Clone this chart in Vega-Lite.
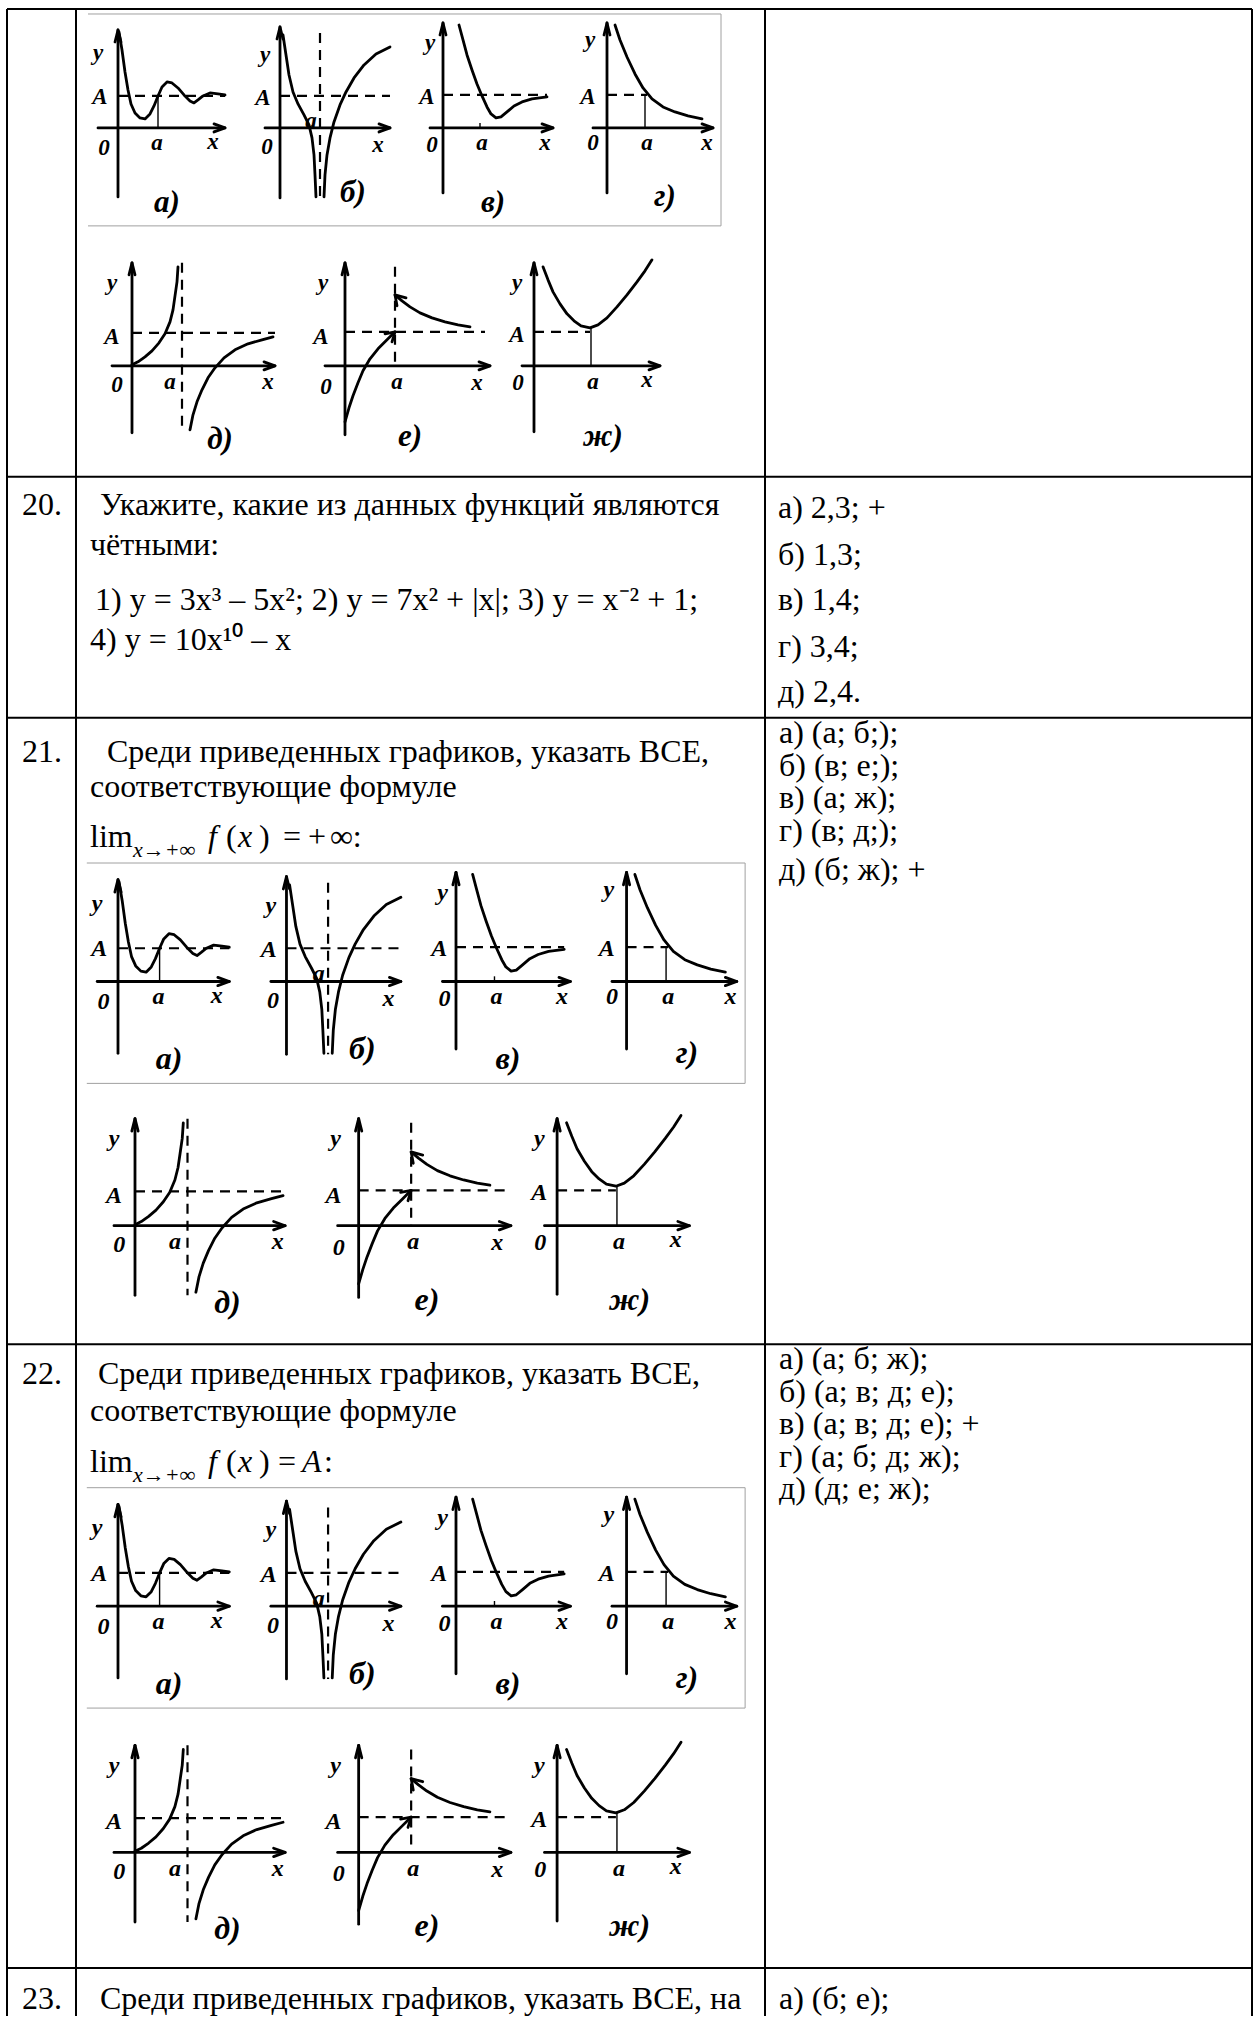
{
"$schema":"https://vega.github.io/schema/vega-lite/v6.json",
"width":1259,"height":2017,
"autosize":{"type":"fit","contains":"padding"},
"padding":0,
"background":"white",
"config":{"view":{"stroke":null}},
"datasets":{
"rules":[
{"x1":7,"y1":9,"x2":1252,"y2":9},{"x1":7,"y1":477,"x2":1252,"y2":477},{"x1":7,"y1":718,"x2":1252,"y2":718},{"x1":7,"y1":1345,"x2":1252,"y2":1345},{"x1":7,"y1":1969,"x2":1252,"y2":1969},
{"x1":7,"y1":9,"x2":7,"y2":2017},{"x1":76,"y1":9,"x2":76,"y2":2017},{"x1":765,"y1":9,"x2":765,"y2":2017},{"x1":1252,"y1":9,"x2":1252,"y2":2017}
],
"texts":[
{"s":"n","t":"20.","x":22,"y":515},
{"s":"n","t":"Укажите, какие из данных функций являются","x":100,"y":515},
{"s":"n","t":"чётными:","x":90,"y":555},
{"s":"n","t":"1) y = 3x³ – 5x²; 2) y = 7x² + |x|; 3) y = x⁻² + 1;","x":95,"y":610},
{"s":"n","t":"4) y = 10x¹⁰ – x","x":90,"y":650},
{"s":"n","t":"а) 2,3; +","x":778,"y":518},
{"s":"n","t":"б) 1,3;","x":778,"y":565},
{"s":"n","t":"в) 1,4;","x":778,"y":610},
{"s":"n","t":"г) 3,4;","x":778,"y":657},
{"s":"n","t":"д) 2,4.","x":778,"y":702},
{"s":"n","t":"21.","x":22,"y":762},
{"s":"n","t":"Среди приведенных графиков, указать ВСЕ,","x":107,"y":762},
{"s":"n","t":"соответствующие формуле","x":90,"y":797},
{"s":"n","t":"lim","x":90,"y":847},
{"s":"sub","t":"x→+∞","x":133,"y":857},
{"s":"i","t":"f","x":208,"y":847},
{"s":"n","t":"(","x":226,"y":847},
{"s":"i","t":"x","x":238,"y":847},
{"s":"n","t":")","x":259,"y":847},
{"s":"n","t":"=","x":283,"y":847},
{"s":"n","t":"+","x":308,"y":847},
{"s":"n","t":"∞:","x":330,"y":847},
{"s":"n","t":"а) (а; б;);","x":779,"y":743},
{"s":"n","t":"б) (в; е;);","x":779,"y":776},
{"s":"n","t":"в) (а; ж);","x":779,"y":808},
{"s":"n","t":"г) (в; д;);","x":779,"y":841},
{"s":"n","t":"д) (б; ж); +","x":779,"y":880},
{"s":"n","t":"22.","x":22,"y":1385},
{"s":"n","t":"Среди приведенных графиков, указать ВСЕ,","x":98,"y":1385},
{"s":"n","t":"соответствующие формуле","x":90,"y":1422},
{"s":"n","t":"lim","x":90,"y":1473},
{"s":"sub","t":"x→+∞","x":133,"y":1483},
{"s":"i","t":"f","x":208,"y":1473},
{"s":"n","t":"(","x":226,"y":1473},
{"s":"i","t":"x","x":238,"y":1473},
{"s":"n","t":")","x":259,"y":1473},
{"s":"n","t":"=","x":278,"y":1473},
{"s":"i","t":"A","x":302,"y":1473},
{"s":"n","t":":","x":324,"y":1473},
{"s":"n","t":"а) (а; б; ж);","x":779,"y":1370},
{"s":"n","t":"б) (а; в; д; е);","x":779,"y":1403},
{"s":"n","t":"в) (а; в; д; е); +","x":779,"y":1435},
{"s":"n","t":"г) (а; б; д; ж);","x":779,"y":1468},
{"s":"n","t":"д) (д; е; ж);","x":779,"y":1500},
{"s":"n","t":"23.","x":22,"y":2010},
{"s":"n","t":"Среди приведенных графиков, указать ВСЕ, на","x":100,"y":2010},
{"s":"n","t":"а) (б; е);","x":779,"y":2010}
],
"topL":[
{"k":"s","g":"a_y","x":118,"y":197},{"k":"s","g":"a_y","x":118,"y":30},
{"k":"s","g":"a_ya","x":115,"y":42},{"k":"s","g":"a_ya","x":118,"y":30},{"k":"s","g":"a_ya","x":121,"y":42},
{"k":"s","g":"a_x","x":98,"y":128},{"k":"s","g":"a_x","x":225,"y":128},
{"k":"s","g":"a_xa","x":214,"y":124},{"k":"s","g":"a_xa","x":225,"y":128},{"k":"s","g":"a_xa","x":214,"y":132},
{"k":"d","g":"a_A","x":118,"y":96},{"k":"d","g":"a_A","x":225,"y":96},
{"k":"t","g":"a_t","x":158,"y":96},{"k":"t","g":"a_t","x":158,"y":128},
{"k":"s","g":"a_c","x":119,"y":32},{"k":"s","g":"a_c","x":122,"y":50},{"k":"s","g":"a_c","x":125,"y":72},{"k":"s","g":"a_c","x":128,"y":90},{"k":"s","g":"a_c","x":131,"y":104},{"k":"s","g":"a_c","x":135,"y":113},{"k":"s","g":"a_c","x":140,"y":118},{"k":"s","g":"a_c","x":145,"y":119},{"k":"s","g":"a_c","x":150,"y":114},{"k":"s","g":"a_c","x":154,"y":106},{"k":"s","g":"a_c","x":158,"y":96},{"k":"s","g":"a_c","x":162,"y":87},{"k":"s","g":"a_c","x":167,"y":82},{"k":"s","g":"a_c","x":172,"y":83},{"k":"s","g":"a_c","x":178,"y":88},{"k":"s","g":"a_c","x":184,"y":95},{"k":"s","g":"a_c","x":190,"y":101},{"k":"s","g":"a_c","x":194,"y":103},{"k":"s","g":"a_c","x":198,"y":100},{"k":"s","g":"a_c","x":203,"y":96},{"k":"s","g":"a_c","x":210,"y":93},{"k":"s","g":"a_c","x":218,"y":94},{"k":"s","g":"a_c","x":225,"y":95},
{"k":"s","g":"b_y","x":280,"y":198},{"k":"s","g":"b_y","x":280,"y":27},
{"k":"s","g":"b_ya","x":277,"y":39},{"k":"s","g":"b_ya","x":280,"y":27},{"k":"s","g":"b_ya","x":283,"y":39},
{"k":"s","g":"b_x","x":265,"y":128},{"k":"s","g":"b_x","x":390,"y":128},
{"k":"s","g":"b_xa","x":379,"y":124},{"k":"s","g":"b_xa","x":390,"y":128},{"k":"s","g":"b_xa","x":379,"y":132},
{"k":"d","g":"b_A","x":280,"y":96},{"k":"d","g":"b_A","x":390,"y":96},
{"k":"d","g":"b_v","x":320,"y":33},{"k":"d","g":"b_v","x":320,"y":198},
{"k":"s","g":"b_c1","x":283,"y":35},{"k":"s","g":"b_c1","x":286,"y":55},{"k":"s","g":"b_c1","x":289,"y":75},{"k":"s","g":"b_c1","x":293,"y":92},{"k":"s","g":"b_c1","x":298,"y":104},{"k":"s","g":"b_c1","x":304,"y":115},{"k":"s","g":"b_c1","x":309,"y":125},{"k":"s","g":"b_c1","x":312,"y":138},{"k":"s","g":"b_c1","x":314,"y":155},{"k":"s","g":"b_c1","x":315,"y":175},{"k":"s","g":"b_c1","x":316,"y":197},
{"k":"s","g":"b_c2","x":324,"y":197},{"k":"s","g":"b_c2","x":325,"y":175},{"k":"s","g":"b_c2","x":327,"y":155},{"k":"s","g":"b_c2","x":330,"y":138},{"k":"s","g":"b_c2","x":334,"y":122},{"k":"s","g":"b_c2","x":340,"y":105},{"k":"s","g":"b_c2","x":346,"y":92},{"k":"s","g":"b_c2","x":354,"y":78},{"k":"s","g":"b_c2","x":364,"y":65},{"k":"s","g":"b_c2","x":376,"y":54},{"k":"s","g":"b_c2","x":390,"y":47},
{"k":"s","g":"v_y","x":443,"y":193},{"k":"s","g":"v_y","x":443,"y":23},
{"k":"s","g":"v_ya","x":440,"y":35},{"k":"s","g":"v_ya","x":443,"y":23},{"k":"s","g":"v_ya","x":446,"y":35},
{"k":"s","g":"v_x","x":430,"y":128},{"k":"s","g":"v_x","x":553,"y":128},
{"k":"s","g":"v_xa","x":542,"y":124},{"k":"s","g":"v_xa","x":553,"y":128},{"k":"s","g":"v_xa","x":542,"y":132},
{"k":"d","g":"v_A","x":443,"y":95},{"k":"d","g":"v_A","x":547,"y":95},
{"k":"t","g":"v_t","x":480,"y":123},{"k":"t","g":"v_t","x":480,"y":128},
{"k":"s","g":"v_c","x":459,"y":25},{"k":"s","g":"v_c","x":463,"y":40},{"k":"s","g":"v_c","x":467,"y":55},{"k":"s","g":"v_c","x":472,"y":70},{"k":"s","g":"v_c","x":477,"y":84},{"k":"s","g":"v_c","x":482,"y":96},{"k":"s","g":"v_c","x":487,"y":107},{"k":"s","g":"v_c","x":491,"y":114},{"k":"s","g":"v_c","x":496,"y":118},{"k":"s","g":"v_c","x":501,"y":117},{"k":"s","g":"v_c","x":507,"y":112},{"k":"s","g":"v_c","x":514,"y":106},{"k":"s","g":"v_c","x":522,"y":102},{"k":"s","g":"v_c","x":532,"y":99},{"k":"s","g":"v_c","x":547,"y":97},
{"k":"s","g":"g_y","x":607,"y":193},{"k":"s","g":"g_y","x":607,"y":23},
{"k":"s","g":"g_ya","x":604,"y":35},{"k":"s","g":"g_ya","x":607,"y":23},{"k":"s","g":"g_ya","x":610,"y":35},
{"k":"s","g":"g_x","x":593,"y":128},{"k":"s","g":"g_x","x":713,"y":128},
{"k":"s","g":"g_xa","x":702,"y":124},{"k":"s","g":"g_xa","x":713,"y":128},{"k":"s","g":"g_xa","x":702,"y":132},
{"k":"d","g":"g_A","x":607,"y":95},{"k":"d","g":"g_A","x":647,"y":95},
{"k":"t","g":"g_t","x":645,"y":95},{"k":"t","g":"g_t","x":645,"y":128},
{"k":"s","g":"g_c","x":615,"y":25},{"k":"s","g":"g_c","x":620,"y":40},{"k":"s","g":"g_c","x":627,"y":57},{"k":"s","g":"g_c","x":635,"y":74},{"k":"s","g":"g_c","x":643,"y":88},{"k":"s","g":"g_c","x":652,"y":99},{"k":"s","g":"g_c","x":663,"y":107},{"k":"s","g":"g_c","x":675,"y":112},{"k":"s","g":"g_c","x":688,"y":116},{"k":"s","g":"g_c","x":702,"y":119},
{"k":"f","g":"f1","x":88,"y":14},{"k":"f","g":"f1","x":721,"y":14},
{"k":"f","g":"f2","x":721,"y":14},{"k":"f","g":"f2","x":721,"y":226},
{"k":"f","g":"f3","x":88,"y":226},{"k":"f","g":"f3","x":721,"y":226}
],
"topT":[
{"k":"lbl","t":"y","x":98,"y":53},{"k":"lbl","t":"A","x":100,"y":97},{"k":"lbl","t":"0","x":104,"y":148},{"k":"lbl","t":"a","x":157,"y":143},{"k":"lbl","t":"x","x":213,"y":142},{"k":"cap","t":"а)","x":167,"y":203},
{"k":"lbl","t":"y","x":265,"y":55},{"k":"lbl","t":"A","x":263,"y":98},{"k":"lbl","t":"0","x":267,"y":147},{"k":"lbl","t":"a","x":311,"y":121},{"k":"lbl","t":"x","x":378,"y":145},{"k":"cap","t":"б)","x":353,"y":193},
{"k":"lbl","t":"y","x":430,"y":43},{"k":"lbl","t":"A","x":427,"y":97},{"k":"lbl","t":"0","x":432,"y":145},{"k":"lbl","t":"a","x":482,"y":143},{"k":"lbl","t":"x","x":545,"y":143},{"k":"cap","t":"в)","x":493,"y":203},
{"k":"lbl","t":"y","x":590,"y":40},{"k":"lbl","t":"A","x":588,"y":97},{"k":"lbl","t":"0","x":593,"y":143},{"k":"lbl","t":"a","x":647,"y":143},{"k":"lbl","t":"x","x":707,"y":143},{"k":"cap","t":"г)","x":665,"y":197}
],
"botL":[
{"k":"s","g":"d_y","x":132,"y":433},{"k":"s","g":"d_y","x":132,"y":263},
{"k":"s","g":"d_ya","x":129,"y":275},{"k":"s","g":"d_ya","x":132,"y":263},{"k":"s","g":"d_ya","x":135,"y":275},
{"k":"s","g":"d_x","x":112,"y":366},{"k":"s","g":"d_x","x":275,"y":366},
{"k":"s","g":"d_xa","x":264,"y":362},{"k":"s","g":"d_xa","x":275,"y":366},{"k":"s","g":"d_xa","x":264,"y":370},
{"k":"d","g":"d_A","x":132,"y":333},{"k":"d","g":"d_A","x":275,"y":333},
{"k":"d","g":"d_v","x":182,"y":263},{"k":"d","g":"d_v","x":182,"y":433},
{"k":"s","g":"d_c1","x":132,"y":365},{"k":"s","g":"d_c1","x":138,"y":362},{"k":"s","g":"d_c1","x":145,"y":357},{"k":"s","g":"d_c1","x":152,"y":351},{"k":"s","g":"d_c1","x":159,"y":343},{"k":"s","g":"d_c1","x":165,"y":334},{"k":"s","g":"d_c1","x":170,"y":322},{"k":"s","g":"d_c1","x":173,"y":310},{"k":"s","g":"d_c1","x":175,"y":296},{"k":"s","g":"d_c1","x":177,"y":282},{"k":"s","g":"d_c1","x":178,"y":267},
{"k":"s","g":"d_c2","x":190,"y":430},{"k":"s","g":"d_c2","x":193,"y":415},{"k":"s","g":"d_c2","x":197,"y":402},{"k":"s","g":"d_c2","x":202,"y":390},{"k":"s","g":"d_c2","x":208,"y":378},{"k":"s","g":"d_c2","x":215,"y":368},{"k":"s","g":"d_c2","x":224,"y":358},{"k":"s","g":"d_c2","x":235,"y":350},{"k":"s","g":"d_c2","x":248,"y":344},{"k":"s","g":"d_c2","x":262,"y":340},{"k":"s","g":"d_c2","x":273,"y":337},
{"k":"s","g":"e_y","x":345,"y":435},{"k":"s","g":"e_y","x":345,"y":263},
{"k":"s","g":"e_ya","x":342,"y":275},{"k":"s","g":"e_ya","x":345,"y":263},{"k":"s","g":"e_ya","x":348,"y":275},
{"k":"s","g":"e_x","x":325,"y":366},{"k":"s","g":"e_x","x":490,"y":366},
{"k":"s","g":"e_xa","x":479,"y":362},{"k":"s","g":"e_xa","x":490,"y":366},{"k":"s","g":"e_xa","x":479,"y":370},
{"k":"d","g":"e_A","x":345,"y":332},{"k":"d","g":"e_A","x":485,"y":332},
{"k":"d","g":"e_v","x":395,"y":267},{"k":"d","g":"e_v","x":395,"y":366},
{"k":"s","g":"e_c1","x":345,"y":422},{"k":"s","g":"e_c1","x":349,"y":408},{"k":"s","g":"e_c1","x":353,"y":396},{"k":"s","g":"e_c1","x":358,"y":383},{"k":"s","g":"e_c1","x":363,"y":371},{"k":"s","g":"e_c1","x":370,"y":359},{"k":"s","g":"e_c1","x":378,"y":349},{"k":"s","g":"e_c1","x":387,"y":340},{"k":"s","g":"e_c1","x":395,"y":332},
{"k":"s","g":"e_h1","x":385,"y":334},{"k":"s","g":"e_h1","x":395,"y":332},{"k":"s","g":"e_h1","x":392,"y":342},
{"k":"s","g":"e_c2","x":395,"y":295},{"k":"s","g":"e_c2","x":402,"y":301},{"k":"s","g":"e_c2","x":410,"y":307},{"k":"s","g":"e_c2","x":420,"y":313},{"k":"s","g":"e_c2","x":432,"y":318},{"k":"s","g":"e_c2","x":445,"y":322},{"k":"s","g":"e_c2","x":458,"y":325},{"k":"s","g":"e_c2","x":470,"y":327},
{"k":"s","g":"e_h2","x":397,"y":306},{"k":"s","g":"e_h2","x":395,"y":295},{"k":"s","g":"e_h2","x":406,"y":298},
{"k":"s","g":"z_y","x":534,"y":432},{"k":"s","g":"z_y","x":534,"y":263},
{"k":"s","g":"z_ya","x":531,"y":275},{"k":"s","g":"z_ya","x":534,"y":263},{"k":"s","g":"z_ya","x":537,"y":275},
{"k":"s","g":"z_x","x":522,"y":366},{"k":"s","g":"z_x","x":660,"y":366},
{"k":"s","g":"z_xa","x":649,"y":362},{"k":"s","g":"z_xa","x":660,"y":366},{"k":"s","g":"z_xa","x":649,"y":370},
{"k":"d","g":"z_A","x":534,"y":332},{"k":"d","g":"z_A","x":590,"y":332},
{"k":"t","g":"z_t","x":591,"y":328},{"k":"t","g":"z_t","x":591,"y":366},
{"k":"s","g":"z_c","x":543,"y":267},{"k":"s","g":"z_c","x":548,"y":280},{"k":"s","g":"z_c","x":553,"y":292},{"k":"s","g":"z_c","x":560,"y":304},{"k":"s","g":"z_c","x":567,"y":314},{"k":"s","g":"z_c","x":574,"y":321},{"k":"s","g":"z_c","x":581,"y":326},{"k":"s","g":"z_c","x":590,"y":328},{"k":"s","g":"z_c","x":598,"y":325},{"k":"s","g":"z_c","x":607,"y":318},{"k":"s","g":"z_c","x":617,"y":307},{"k":"s","g":"z_c","x":627,"y":295},{"k":"s","g":"z_c","x":637,"y":282},{"k":"s","g":"z_c","x":645,"y":271},{"k":"s","g":"z_c","x":652,"y":260}
],
"botT":[
{"k":"lbl","t":"y","x":112,"y":283},{"k":"lbl","t":"A","x":112,"y":337},{"k":"lbl","t":"0","x":117,"y":385},{"k":"lbl","t":"a","x":170,"y":382},{"k":"lbl","t":"x","x":268,"y":382},{"k":"cap","t":"д)","x":220,"y":440},
{"k":"lbl","t":"y","x":323,"y":283},{"k":"lbl","t":"A","x":321,"y":337},{"k":"lbl","t":"0","x":326,"y":387},{"k":"lbl","t":"a","x":397,"y":382},{"k":"lbl","t":"x","x":477,"y":383},{"k":"cap","t":"е)","x":410,"y":437},
{"k":"lbl","t":"y","x":517,"y":283},{"k":"lbl","t":"A","x":517,"y":335},{"k":"lbl","t":"0","x":518,"y":383},{"k":"lbl","t":"a","x":593,"y":382},{"k":"lbl","t":"x","x":647,"y":380},{"k":"cap","t":"ж)","x":603,"y":437}
]
},
"layer":[
{
"encoding":{
"x":{"field":"x","type":"quantitative","scale":{"domain":[0,1259],"nice":false,"zero":false},"axis":null},
"y":{"field":"y","type":"quantitative","scale":{"domain":[0,2017],"nice":false,"zero":false,"reverse":true},"axis":null}
},
"layer":[
{"data":{"name":"rules"},"mark":{"type":"rule","color":"black","strokeWidth":2},
"encoding":{"x":{"field":"x1","type":"quantitative","scale":{"domain":[0,1259],"nice":false,"zero":false},"axis":null},"x2":{"field":"x2"},"y":{"field":"y1","type":"quantitative","scale":{"domain":[0,2017],"nice":false,"zero":false,"reverse":true},"axis":null},"y2":{"field":"y2"}}},
{"data":{"name":"texts"},"transform":[{"filter":"datum.s=='n'"}],"mark":{"type":"text","font":"Liberation Serif, serif","fontSize":32,"align":"left","baseline":"alphabetic","color":"black"},"encoding":{"text":{"field":"t"}}},
{"data":{"name":"texts"},"transform":[{"filter":"datum.s=='i'"}],"mark":{"type":"text","font":"Liberation Serif, serif","fontSize":32,"fontStyle":"italic","align":"left","baseline":"alphabetic","color":"black"},"encoding":{"text":{"field":"t"}}},
{"data":{"name":"texts"},"transform":[{"filter":"datum.s=='sub'"}],"mark":{"type":"text","font":"Liberation Serif, serif","fontSize":22,"fontStyle":"italic","align":"left","baseline":"alphabetic","color":"black"},"encoding":{"text":{"field":"t"}}},
{"data":{"name":"topL"},"transform":[{"filter":"datum.k=='s'"}],"mark":{"type":"line","color":"black","strokeWidth":2.8,"strokeCap":"round","strokeJoin":"round"},"encoding":{"detail":{"field":"g"},"order":{"value":null}}},
{"data":{"name":"topL"},"transform":[{"filter":"datum.k=='d'"}],"mark":{"type":"line","color":"black","strokeWidth":2.2,"strokeDash":[10,7]},"encoding":{"detail":{"field":"g"},"order":{"value":null}}},
{"data":{"name":"topL"},"transform":[{"filter":"datum.k=='t'"}],"mark":{"type":"line","color":"black","strokeWidth":1.4},"encoding":{"detail":{"field":"g"},"order":{"value":null}}},
{"data":{"name":"topL"},"transform":[{"filter":"datum.k=='f'"}],"mark":{"type":"line","color":"#a0a0a0","strokeWidth":1},"encoding":{"detail":{"field":"g"},"order":{"value":null}}},
{"data":{"name":"topT"},"transform":[{"filter":"datum.k=='lbl'"}],"mark":{"type":"text","font":"Liberation Serif, serif","fontStyle":"italic","fontWeight":"bold","fontSize":23,"align":"center","baseline":"middle","color":"black"},"encoding":{"text":{"field":"t"}}},
{"data":{"name":"topT"},"transform":[{"filter":"datum.k=='cap'"}],"mark":{"type":"text","font":"Liberation Serif, serif","fontStyle":"italic","fontWeight":"bold","fontSize":31,"align":"center","baseline":"middle","color":"black"},"encoding":{"text":{"field":"t"}}},
{"data":{"name":"botL"},"transform":[{"filter":"datum.k=='s'"}],"mark":{"type":"line","color":"black","strokeWidth":2.8,"strokeCap":"round","strokeJoin":"round"},"encoding":{"detail":{"field":"g"},"order":{"value":null}}},
{"data":{"name":"botL"},"transform":[{"filter":"datum.k=='d'"}],"mark":{"type":"line","color":"black","strokeWidth":2.2,"strokeDash":[10,7]},"encoding":{"detail":{"field":"g"},"order":{"value":null}}},
{"data":{"name":"botL"},"transform":[{"filter":"datum.k=='t'"}],"mark":{"type":"line","color":"black","strokeWidth":1.4},"encoding":{"detail":{"field":"g"},"order":{"value":null}}},
{"data":{"name":"botT"},"transform":[{"filter":"datum.k=='lbl'"}],"mark":{"type":"text","font":"Liberation Serif, serif","fontStyle":"italic","fontWeight":"bold","fontSize":23,"align":"center","baseline":"middle","color":"black"},"encoding":{"text":{"field":"t"}}},
{"data":{"name":"botT"},"transform":[{"filter":"datum.k=='cap'"}],"mark":{"type":"text","font":"Liberation Serif, serif","fontStyle":"italic","fontWeight":"bold","fontSize":31,"align":"center","baseline":"middle","color":"black"},"encoding":{"text":{"field":"t"}}}
]
},
{
"encoding":{
"x":{"field":"x","type":"quantitative","scale":{"domain":[4.54,1215.12],"nice":false,"zero":false},"axis":null},
"y":{"field":"y","type":"quantitative","scale":{"domain":[-816.23,1123.19],"nice":false,"zero":false,"reverse":true},"axis":null}
},
"layer":[
{"data":{"name":"topL"},"transform":[{"filter":"datum.k=='s'"}],"mark":{"type":"line","color":"black","strokeWidth":2.8,"strokeCap":"round","strokeJoin":"round"},"encoding":{"detail":{"field":"g"},"order":{"value":null}}},
{"data":{"name":"topL"},"transform":[{"filter":"datum.k=='d'"}],"mark":{"type":"line","color":"black","strokeWidth":2.2,"strokeDash":[10,7]},"encoding":{"detail":{"field":"g"},"order":{"value":null}}},
{"data":{"name":"topL"},"transform":[{"filter":"datum.k=='t'"}],"mark":{"type":"line","color":"black","strokeWidth":1.4},"encoding":{"detail":{"field":"g"},"order":{"value":null}}},
{"data":{"name":"topL"},"transform":[{"filter":"datum.k=='f'"}],"mark":{"type":"line","color":"#a0a0a0","strokeWidth":1},"encoding":{"detail":{"field":"g"},"order":{"value":null}}},
{"data":{"name":"topT"},"transform":[{"filter":"datum.k=='lbl'"}],"mark":{"type":"text","font":"Liberation Serif, serif","fontStyle":"italic","fontWeight":"bold","fontSize":24,"align":"center","baseline":"middle","color":"black"},"encoding":{"text":{"field":"t"}}},
{"data":{"name":"topT"},"transform":[{"filter":"datum.k=='cap'"}],"mark":{"type":"text","font":"Liberation Serif, serif","fontStyle":"italic","fontWeight":"bold","fontSize":32,"align":"center","baseline":"middle","color":"black"},"encoding":{"text":{"field":"t"}}}
]
},
{
"encoding":{
"x":{"field":"x","type":"quantitative","scale":{"domain":[4.54,1215.12],"nice":false,"zero":false},"axis":null},
"y":{"field":"y","type":"quantitative","scale":{"domain":[-1417.19,522.23],"nice":false,"zero":false,"reverse":true},"axis":null}
},
"layer":[
{"data":{"name":"topL"},"transform":[{"filter":"datum.k=='s'"}],"mark":{"type":"line","color":"black","strokeWidth":2.8,"strokeCap":"round","strokeJoin":"round"},"encoding":{"detail":{"field":"g"},"order":{"value":null}}},
{"data":{"name":"topL"},"transform":[{"filter":"datum.k=='d'"}],"mark":{"type":"line","color":"black","strokeWidth":2.2,"strokeDash":[10,7]},"encoding":{"detail":{"field":"g"},"order":{"value":null}}},
{"data":{"name":"topL"},"transform":[{"filter":"datum.k=='t'"}],"mark":{"type":"line","color":"black","strokeWidth":1.4},"encoding":{"detail":{"field":"g"},"order":{"value":null}}},
{"data":{"name":"topL"},"transform":[{"filter":"datum.k=='f'"}],"mark":{"type":"line","color":"#a0a0a0","strokeWidth":1},"encoding":{"detail":{"field":"g"},"order":{"value":null}}},
{"data":{"name":"topT"},"transform":[{"filter":"datum.k=='lbl'"}],"mark":{"type":"text","font":"Liberation Serif, serif","fontStyle":"italic","fontWeight":"bold","fontSize":24,"align":"center","baseline":"middle","color":"black"},"encoding":{"text":{"field":"t"}}},
{"data":{"name":"topT"},"transform":[{"filter":"datum.k=='cap'"}],"mark":{"type":"text","font":"Liberation Serif, serif","fontStyle":"italic","fontWeight":"bold","fontSize":32,"align":"center","baseline":"middle","color":"black"},"encoding":{"text":{"field":"t"}}}
]
},
{
"encoding":{
"x":{"field":"x","type":"quantitative","scale":{"domain":[3.43,1202.48],"nice":false,"zero":false},"axis":null},
"y":{"field":"y","type":"quantitative","scale":{"domain":[-813.15,1126.27],"nice":false,"zero":false,"reverse":true},"axis":null}
},
"layer":[
{"data":{"name":"botL"},"transform":[{"filter":"datum.k=='s'"}],"mark":{"type":"line","color":"black","strokeWidth":2.8,"strokeCap":"round","strokeJoin":"round"},"encoding":{"detail":{"field":"g"},"order":{"value":null}}},
{"data":{"name":"botL"},"transform":[{"filter":"datum.k=='d'"}],"mark":{"type":"line","color":"black","strokeWidth":2.2,"strokeDash":[10,7]},"encoding":{"detail":{"field":"g"},"order":{"value":null}}},
{"data":{"name":"botL"},"transform":[{"filter":"datum.k=='t'"}],"mark":{"type":"line","color":"black","strokeWidth":1.4},"encoding":{"detail":{"field":"g"},"order":{"value":null}}},
{"data":{"name":"botT"},"transform":[{"filter":"datum.k=='lbl'"}],"mark":{"type":"text","font":"Liberation Serif, serif","fontStyle":"italic","fontWeight":"bold","fontSize":24,"align":"center","baseline":"middle","color":"black"},"encoding":{"text":{"field":"t"}}},
{"data":{"name":"botT"},"transform":[{"filter":"datum.k=='cap'"}],"mark":{"type":"text","font":"Liberation Serif, serif","fontStyle":"italic","fontWeight":"bold","fontSize":32,"align":"center","baseline":"middle","color":"black"},"encoding":{"text":{"field":"t"}}}
]
},
{
"encoding":{
"x":{"field":"x","type":"quantitative","scale":{"domain":[3.43,1202.48],"nice":false,"zero":false},"axis":null},
"y":{"field":"y","type":"quantitative","scale":{"domain":[-1416.04,523.38],"nice":false,"zero":false,"reverse":true},"axis":null}
},
"layer":[
{"data":{"name":"botL"},"transform":[{"filter":"datum.k=='s'"}],"mark":{"type":"line","color":"black","strokeWidth":2.8,"strokeCap":"round","strokeJoin":"round"},"encoding":{"detail":{"field":"g"},"order":{"value":null}}},
{"data":{"name":"botL"},"transform":[{"filter":"datum.k=='d'"}],"mark":{"type":"line","color":"black","strokeWidth":2.2,"strokeDash":[10,7]},"encoding":{"detail":{"field":"g"},"order":{"value":null}}},
{"data":{"name":"botL"},"transform":[{"filter":"datum.k=='t'"}],"mark":{"type":"line","color":"black","strokeWidth":1.4},"encoding":{"detail":{"field":"g"},"order":{"value":null}}},
{"data":{"name":"botT"},"transform":[{"filter":"datum.k=='lbl'"}],"mark":{"type":"text","font":"Liberation Serif, serif","fontStyle":"italic","fontWeight":"bold","fontSize":24,"align":"center","baseline":"middle","color":"black"},"encoding":{"text":{"field":"t"}}},
{"data":{"name":"botT"},"transform":[{"filter":"datum.k=='cap'"}],"mark":{"type":"text","font":"Liberation Serif, serif","fontStyle":"italic","fontWeight":"bold","fontSize":32,"align":"center","baseline":"middle","color":"black"},"encoding":{"text":{"field":"t"}}}
]
}
],
"resolve":{"scale":{"x":"independent","y":"independent"}}
}
